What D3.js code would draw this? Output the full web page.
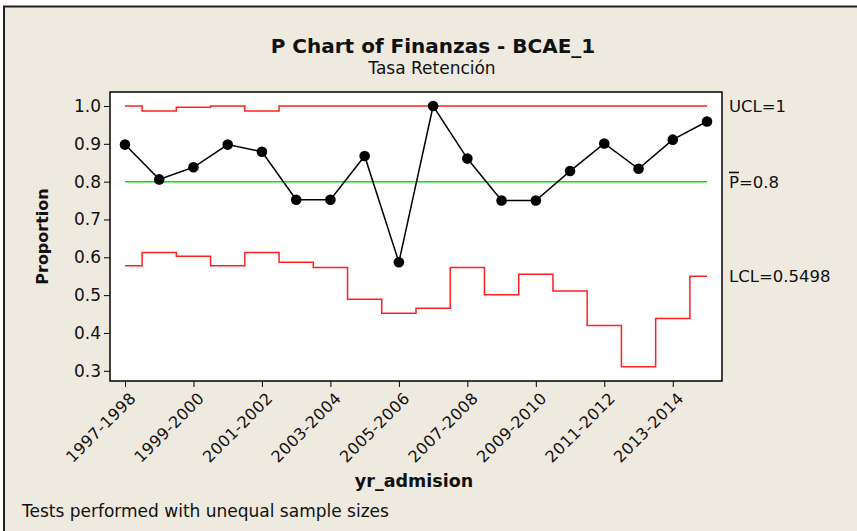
<!DOCTYPE html>
<html>
<head>
<meta charset="utf-8">
<script src="https://cdn.jsdelivr.net/npm/d3@7"></script>
<style>
  body { margin: 0; background: #fff; }
  svg text { font-family: "DejaVu Sans", Verdana, sans-serif; fill: #111; }
</style>
</head>
<body>
<svg id="chart"></svg>
<script>
// categories (yr_admision)
const years = ["1997-1998","1998-1999","1999-2000","2000-2001","2001-2002","2002-2003",
  "2003-2004","2004-2005","2005-2006","2006-2007","2007-2008","2008-2009",
  "2009-2010","2010-2011","2011-2012","2012-2013","2013-2014","2014-2015"];
const tickYears = ["1997-1998","1999-2000","2001-2002","2003-2004","2005-2006",
  "2007-2008","2009-2010","2011-2012","2013-2014"];
// proportions
const proportion = [0.898, 0.806, 0.838, 0.898, 0.879, 0.752, 0.752, 0.868, 0.587,
  1.0, 0.861, 0.75, 0.75, 0.828, 0.901, 0.834, 0.911, 0.959];
// control limits
const ucl = [1.0, 0.987, 0.997, 1.0, 0.987, 1.0, 1.0, 1.0, 1.0,
  1.0, 1.0, 1.0, 1.0, 1.0, 1.0, 1.0, 1.0, 1.0];
const lcl = [0.578, 0.613, 0.603, 0.578, 0.613, 0.587, 0.573, 0.489, 0.452,
  0.465, 0.573, 0.501, 0.555, 0.511, 0.420, 0.311, 0.438, 0.5498];
const pbar = 0.8;
const yTicks = [0.3, 0.4, 0.5, 0.6, 0.7, 0.8, 0.9, 1.0];

const W = 857, H = 531;
const plot = { left: 110, right: 722, top: 92, bottom: 381 };

const svg = d3.select("#chart").attr("width", W).attr("height", H);

svg.append("rect").attr("width", W).attr("height", H).attr("fill", "#fff");
svg.append("rect").attr("x", 4).attr("y", 7).attr("width", W - 4).attr("height", H - 7)
  .attr("fill", "#eeeae0");
svg.append("line").attr("x1", 3).attr("x2", W).attr("y1", 6.5).attr("y2", 6.5)
  .attr("stroke", "#222").attr("stroke-width", 2);
svg.append("line").attr("x1", 4).attr("x2", 4).attr("y1", 6).attr("y2", H)
  .attr("stroke", "#222").attr("stroke-width", 2);

const x = d3.scalePoint().domain(years).range([125, 707]);
const y = d3.scaleLinear().domain([0.273, 1.037]).range([plot.bottom, plot.top]);

svg.append("rect")
  .attr("x", plot.left).attr("y", plot.top)
  .attr("width", plot.right - plot.left).attr("height", plot.bottom - plot.top)
  .attr("fill", "#fff").attr("stroke", "#000").attr("stroke-width", 1.5);

// axes
const yAxis = d3.axisLeft(y).tickValues(yTicks).tickFormat(d3.format(".1f"))
  .tickSize(6).tickSizeOuter(0).tickPadding(3);
const yg = svg.append("g").attr("transform", `translate(${plot.left},0)`).call(yAxis);
yg.select(".domain").remove();
yg.selectAll("text").style("font-size", "17px").attr("fill", "#111");

const xAxis = d3.axisBottom(x).tickValues(tickYears).tickSize(6).tickSizeOuter(0);
const xg = svg.append("g").attr("transform", `translate(0,${plot.bottom})`).call(xAxis);
xg.select(".domain").remove();
xg.selectAll("text")
  .style("font-size", "16px")
  .style("letter-spacing", "0.4px")
  .attr("text-anchor", "end")
  .attr("dy", null)
  .attr("transform", "translate(5,12) rotate(-45)");

// center line
svg.append("line")
  .attr("x1", x(years[0])).attr("x2", x(years[years.length - 1]))
  .attr("y1", y(pbar)).attr("y2", y(pbar))
  .attr("stroke", "#00e600").attr("stroke-width", 1.5);

// control limits
const stepLine = d3.line().x((d, i) => x(years[i])).y(d => y(d)).curve(d3.curveStep);
[ucl, lcl].forEach(arr => {
  svg.append("path").attr("d", stepLine(arr))
    .attr("fill", "none").attr("stroke", "#ff2020").attr("stroke-width", 1.5);
});

// data
const line = d3.line().x((d, i) => x(years[i])).y(d => y(d));
svg.append("path").attr("d", line(proportion))
  .attr("fill", "none").attr("stroke", "#000").attr("stroke-width", 1.5);
svg.selectAll("circle.pt").data(proportion).join("circle")
  .attr("class", "pt")
  .attr("cx", (d, i) => x(years[i])).attr("cy", d => y(d)).attr("r", 5.3)
  .attr("fill", "#000");

// limit labels
const lab = svg.append("g").style("font-size", "16.5px");
lab.append("text").attr("x", 729).attr("y", y(ucl[ucl.length - 1]) + 6).text("UCL=1");
const pl = lab.append("text").attr("x", 729).attr("y", y(pbar) + 6);
pl.append("tspan").style("text-decoration", "overline").text("P");
pl.append("tspan").text("=0.8");
lab.append("text").attr("x", 729).attr("y", y(lcl[lcl.length - 1]) + 6).text("LCL=0.5498");

// titles
svg.append("text").attr("x", 433).attr("y", 53).attr("text-anchor", "middle")
  .style("font-size", "20px").style("font-weight", "bold")
  .text("P Chart of Finanzas - BCAE_1");
svg.append("text").attr("x", 432).attr("y", 74).attr("text-anchor", "middle")
  .style("font-size", "17px").text("Tasa Retención");
svg.append("text").attr("transform", `translate(48,${(plot.top + plot.bottom) / 2}) rotate(-90)`)
  .attr("text-anchor", "middle").style("font-size", "16px").style("font-weight", "bold")
  .text("Proportion");
svg.append("text").attr("x", 414).attr("y", 487).attr("text-anchor", "middle")
  .style("font-size", "17.5px").style("font-weight", "bold").text("yr_admision");
svg.append("text").attr("x", 22).attr("y", 517)
  .style("font-size", "17px").text("Tests performed with unequal sample sizes");
</script>
</body>
</html>
